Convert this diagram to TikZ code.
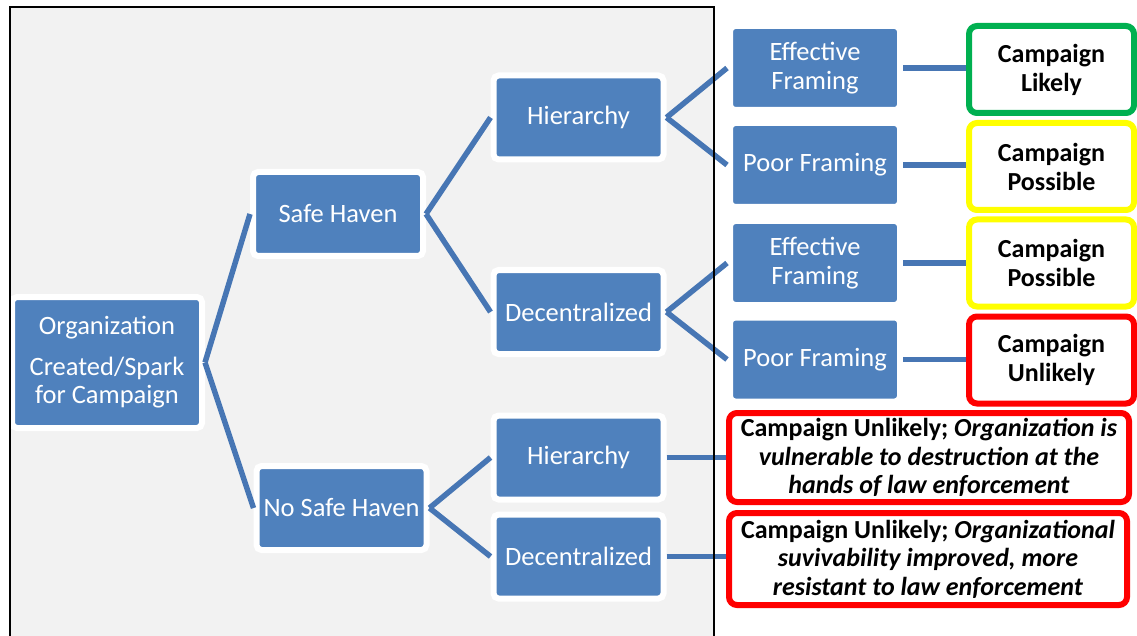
\documentclass[tikz,border=0pt]{standalone}
\usepackage{fontspec}
\setmainfont{Carlito}
\definecolor{boxblue}{HTML}{4F81BD}
\definecolor{connblue}{HTML}{4776B4}
\definecolor{panelgrey}{HTML}{F2F2F2}
\definecolor{okgreen}{HTML}{00B050}
\definecolor{maybeyellow}{HTML}{FFFF00}
\definecolor{badred}{HTML}{FF0000}
\tikzset{
  bluebox/.style={rectangle, rounded corners=5pt, fill=boxblue, draw=white, line width=6pt,
    minimum width=170pt, minimum height=84pt, text=white, align=center, inner sep=0pt,
    font=\fontsize{26.5}{28.5}\selectfont},
  resbox/.style={rectangle, rounded corners=8pt, fill=white, line width=6pt,
    minimum width=165pt, minimum height=87pt, align=center, inner sep=0pt,
    font=\bfseries\fontsize{26}{29}\selectfont},
  longbox/.style={rectangle, rounded corners=8pt, fill=white, draw=badred, line width=6pt,
    align=center, inner sep=0pt, font=\bfseries\fontsize{26}{28.5}\selectfont},
  conn/.style={draw=connblue, line width=5.5pt},
}
\begin{document}
\begin{tikzpicture}[x=1pt,y=-1pt]
\useasboundingbox (0,0) rectangle (1137,636);
\fill[panelgrey] (10,7) rectangle (714,636);
% level 0
\node[bluebox, minimum width=190pt, minimum height=131pt] (org) at (107,362.5)
  {Organization\\[12pt]Created/Spark\\for Campaign};
% level 1
\node[bluebox] (sh) at (338,214) {Safe Haven};
\node[bluebox] (nsh) at (341.5,508) {No Safe Haven};
% level 2
\node[bluebox] (h1) at (578.5,117.5) {Hierarchy};
\node[bluebox] (d1) at (578.5,312) {Decentralized};
\node[bluebox] (h2) at (578.5,457.5) {Hierarchy};
\node[bluebox] (d2) at (578.5,556.5) {Decentralized};
% level 3
\node[bluebox] (ef1) at (815,68) {Effective\\Framing};
\node[bluebox] (pf1) at (815,165) {Poor Framing};
\node[bluebox] (ef2) at (815,263) {Effective\\Framing};
\node[bluebox] (pf2) at (815,359.5) {Poor Framing};
% results
\node[resbox, draw=okgreen] (r1) at (1051.5,69.5) {Campaign\\Likely};
\node[resbox, draw=maybeyellow] (r2) at (1051.5,166.5) {Campaign\\Possible};
\node[resbox, draw=maybeyellow] (r3) at (1051.5,263) {Campaign\\Possible};
\node[resbox, draw=badred] (r4) at (1051.5,360) {Campaign\\Unlikely};
\node[longbox, minimum width=400pt, minimum height=89pt] (r5) at (929,457.5)
  {Campaign Unlikely; \textit{Organization is}\\\textit{vulnerable to destruction at the}\\\textit{hands of law enforcement}};
\node[longbox, minimum width=398pt, minimum height=92pt] (r6) at (928,559)
  {Campaign Unlikely; \textit{Organizational}\\\textit{suvivability improved, more}\\\textit{resistant to law enforcement}};
% connectors
\draw[conn] (org.east) -- (sh.west);
\draw[conn] (org.east) -- (nsh.west);
\draw[conn] (sh.east) -- (h1.west);
\draw[conn] (sh.east) -- (d1.west);
\draw[conn] (nsh.east) -- (h2.west);
\draw[conn] (nsh.east) -- (d2.west);
\draw[conn] (h1.east) -- (ef1.west);
\draw[conn] (h1.east) -- (pf1.west);
\draw[conn] (d1.east) -- (ef2.west);
\draw[conn] (d1.east) -- (pf2.west);
\draw[conn] (ef1.east) -- (ef1.east -| r1.west);
\draw[conn] (pf1.east) -- (pf1.east -| r2.west);
\draw[conn] (ef2.east) -- (ef2.east -| r3.west);
\draw[conn] (pf2.east) -- (pf2.east -| r4.west);
\draw[conn] (h2.east) -- (h2.east -| r5.west);
\draw[conn] (d2.east) -- (d2.east -| r6.west);
% panel border
\draw[line width=2pt, line cap=rect] (10,636) -- (10,7) -- (714,7) -- (714,636);
\end{tikzpicture}
\end{document}
